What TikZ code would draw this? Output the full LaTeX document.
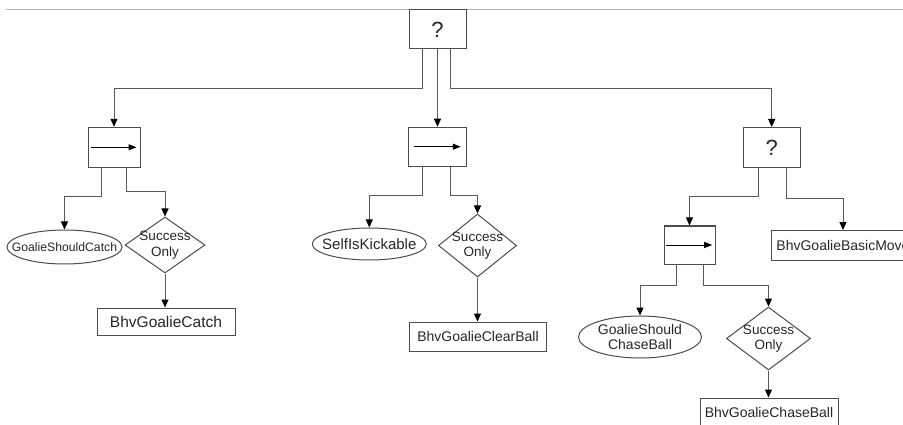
\documentclass[tikz,border=0pt]{standalone}
\usepackage{fontspec}
\setmainfont{Liberation Sans}
\usetikzlibrary{arrows.meta,shapes.geometric,calc}
\begin{document}
\begin{tikzpicture}[x=1pt,y=-1pt,
  every node/.style={text=black!85, inner sep=0pt},
  ctrl/.style={draw=black!70, line width=1pt, rectangle, minimum width=57pt, minimum height=39pt},
  act/.style={draw=black!70, line width=1pt, rectangle, minimum height=28pt, font=\fontsize{14}{16}\selectfont},
  cond/.style={draw=black!70, line width=1pt, ellipse},
  deco/.style={draw=black!70, line width=1pt, diamond},
  lbl/.style={font=\fontsize{14}{16}\selectfont, align=center},
  declbl/.style={font=\fontsize{13.5}{15.5}\selectfont, align=center},
  conn/.style={draw=black!65, line width=1pt, -{Triangle[length=8pt,width=7pt,color=black]}},
  seqarrow/.style={draw=black, line width=1pt, -{Triangle[length=8pt,width=6pt]}},
  qmark/.style={font=\fontsize{22}{24}\selectfont}
]
\useasboundingbox (0,0) rectangle (903,425);
\clip (0,0) rectangle (903,425);

% top separator line of the screenshot
\coordinate (lineA) at (6,9.5);
\coordinate (lineB) at (903,9.5);
\draw[black!30, line width=1pt] (lineA) -- (lineB);

% control nodes
\node[ctrl, qmark] (T) at (437.5,29.5) {?};
\node[ctrl, minimum width=52pt, minimum height=40pt] (L) at (114,147.3) {};
\node[ctrl, minimum width=58pt] (M) at (437,146.7) {};
\node[ctrl, qmark, minimum height=40pt] (R) at (771.7,147.5) {?};
\node[ctrl, minimum width=51pt, minimum height=38pt] (RS) at (689.5,245) {};

% sequence arrows
\draw[seqarrow] ([xshift=3.4pt]L.west) -- ([xshift=-4pt]L.east);
\draw[seqarrow] ([xshift=6pt]M.west) -- ([xshift=-5.7pt]M.east);
\draw[seqarrow] ([xshift=2.7pt]RS.west) -- ([xshift=-3.3pt]RS.east);

% conditions (shape + label)
\node[cond, minimum width=115pt, minimum height=34pt] (E1) at (64.5,247) {};
\node[lbl, font=\fontsize{12.2}{14}\selectfont] (E1t) at (E1.center) {GoalieShouldCatch};
\node[cond, minimum width=114pt, minimum height=32pt] (E2) at (369.3,244) {};
\node[lbl, font=\fontsize{15}{17}\selectfont] (E2t) at (E2.center) {SelfIsKickable};
\node[cond, minimum width=123pt, minimum height=42pt] (E3) at (640,337) {};
\node[lbl, font=\fontsize{14}{15.5}\selectfont] (E3t) at (E3.center) {GoalieShould\\ChaseBall};

% decorators (shape + label)
\node[deco, minimum width=80pt, minimum height=56pt] (D1) at (165,245) {};
\node[declbl] (D1t) at (D1.center) {Success\\Only};
\node[deco, minimum width=78pt, minimum height=63pt] (D2) at (477.5,245.5) {};
\node[declbl] (D2t) at (D2.center) {Success\\Only};
\node[deco, minimum width=84pt, minimum height=63pt] (D3) at (768.5,338.5) {};
\node[declbl] (D3t) at (D3.center) {Success\\Only};

% actions
\node[act, minimum width=138pt, minimum height=27pt, font=\fontsize{15.5}{17}\selectfont] (B1) at (166,321.5) {BhvGoalieCatch};
\node[act, minimum width=137pt, minimum height=29pt] (B2) at (478,336.5) {BhvGoalieClearBall};
\node[act, minimum width=138pt, minimum height=29pt] (B3) at (769,412.5) {BhvGoalieChaseBall};
\node[act, minimum width=143pt, minimum height=29.5pt] (B4) at (843,245.3) {BhvGoalieBasicMove};

% connectors from the root
\draw[conn] ([xshift=-15pt]T.south) -- ++(0,39.3) -| (L.north);
\draw[conn] (T.south) -- (T.south |- M.north);
\draw[conn] ([xshift=13.2pt]T.south) -- ++(0,39.3) -| (R.north);

% left sequence
\draw[conn] ([xshift=-12.3pt]L.south) -- ++(0,28.7) -| (E1.north);
\draw[conn] ([xshift=12.7pt]L.south) -- ++(0,24) -| (D1.north);
\draw[conn] (D1.south) -- (D1.south |- B1.north);

% middle sequence
\draw[conn] ([xshift=-14.7pt]M.south) -- ++(0,29) -| (E2.north);
\draw[conn] ([xshift=13.7pt]M.south) -- ++(0,29) -| (D2.north);
\draw[conn] (D2.south) -- (D2.south |- B2.north);

% right selector
\draw[conn] ([xshift=-13.4pt]R.south) -- ++(0,28.5) -| (RS.north);
\draw[conn] ([xshift=14.3pt]R.south) -- ++(0,30.8) -| (B4.north);

% right inner sequence
\draw[conn] ([xshift=-12.8pt]RS.south) -- ++(0,21) -| (E3.north);
\draw[conn] ([xshift=13.8pt]RS.south) -- ++(0,21) -| (D3.north);
\draw[conn] (D3.south) -- (D3.south |- B3.north);
\end{tikzpicture}
\end{document}
